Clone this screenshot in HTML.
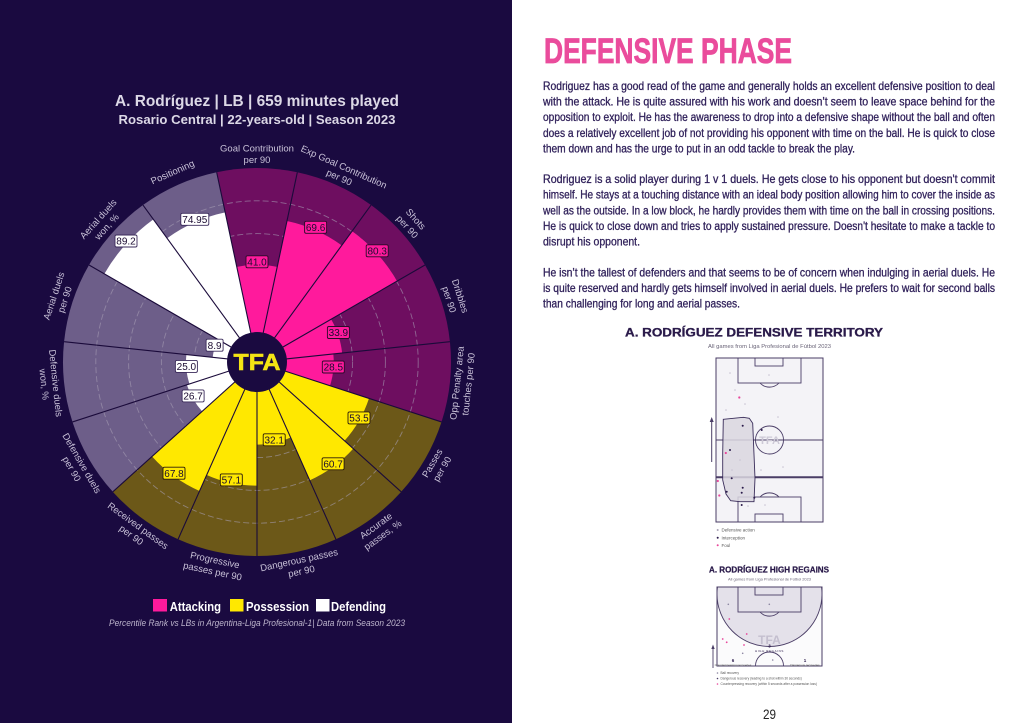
<!DOCTYPE html>
<html><head><meta charset="utf-8"><style>html,body{margin:0;padding:0;background:#fff;}svg{display:block}</style></head>
<body>
<svg width="1024" height="723" viewBox="0 0 1024 723" xmlns="http://www.w3.org/2000/svg" xmlns:xlink="http://www.w3.org/1999/xlink" font-family="'Liberation Sans', sans-serif">
<defs>
<path id="bg" d="M0 0L-40.33 -189.76A194 194 0 0 1 40.33 -189.76Z"/>
<line id="sep" x1="0" y1="-28" x2="0" y2="-194" stroke="#1a0a3a" stroke-width="1.1"/>
<clipPath id="hrclip"><rect x="717" y="587" width="105" height="79"/></clipPath>
</defs>
<rect x="0" y="0" width="512" height="723" fill="#1a0a40"/>
<rect x="512" y="0" width="512" height="723" fill="#ffffff"/>

<!-- Title -->
<text x="257" y="106" text-anchor="middle" font-size="15.5" font-weight="bold" fill="#dcd8e6" textLength="284" lengthAdjust="spacingAndGlyphs">A. Rodríguez | LB | 659 minutes played</text>
<text x="257" y="124" text-anchor="middle" font-size="13" font-weight="bold" fill="#dcd8e6" textLength="277" lengthAdjust="spacingAndGlyphs">Rosario Central | 22-years-old | Season 2023</text>

<g transform="translate(257,362)">
<use xlink:href="#bg" fill="#6e0e60"/>
<use xlink:href="#bg" fill="#6e0e60" transform="rotate(24)"/>
<use xlink:href="#bg" fill="#6e0e60" transform="rotate(48)"/>
<use xlink:href="#bg" fill="#6e0e60" transform="rotate(72)"/>
<use xlink:href="#bg" fill="#6e0e60" transform="rotate(96)"/>
<use xlink:href="#bg" fill="#6c5818" transform="rotate(120)"/>
<use xlink:href="#bg" fill="#6c5818" transform="rotate(144)"/>
<use xlink:href="#bg" fill="#6c5818" transform="rotate(168)"/>
<use xlink:href="#bg" fill="#6c5818" transform="rotate(192)"/>
<use xlink:href="#bg" fill="#6c5818" transform="rotate(216)"/>
<use xlink:href="#bg" fill="#6d5e89" transform="rotate(240)"/>
<use xlink:href="#bg" fill="#6d5e89" transform="rotate(264)"/>
<use xlink:href="#bg" fill="#6d5e89" transform="rotate(288)"/>
<use xlink:href="#bg" fill="#6d5e89" transform="rotate(312)"/>
<use xlink:href="#bg" fill="#6d5e89" transform="rotate(336)"/>
<g fill="none" stroke="#a89fb5" stroke-width="0.9" stroke-dasharray="6 3" opacity="0.6">
<circle r="62.8"/><circle r="95.6"/><circle r="128.4"/><circle r="161.2"/>
</g>
<path fill="#ff1a9c" d="M0 0L-20.22 -95.12A97.24 97.24 0 0 1 20.22 -95.12Z"/>
<path fill="#ff1a9c" transform="rotate(24)" d="M0 0L-29.97 -140.99A144.14 144.14 0 0 1 29.97 -140.99Z"/>
<path fill="#ff1a9c" transform="rotate(48)" d="M0 0L-33.62 -158.16A161.69 161.69 0 0 1 33.62 -158.16Z"/>
<path fill="#ff1a9c" transform="rotate(72)" d="M0 0L-17.80 -83.73A85.6 85.6 0 0 1 17.80 -83.73Z"/>
<path fill="#ff1a9c" transform="rotate(96)" d="M0 0L-15.96 -75.06A76.74 76.74 0 0 1 15.96 -75.06Z"/>
<path fill="#ffe800" transform="rotate(120)" d="M0 0L-24.48 -115.17A117.74 117.74 0 0 1 24.48 -115.17Z"/>
<path fill="#ffe800" transform="rotate(144)" d="M0 0L-26.94 -126.72A129.55 129.55 0 0 1 26.94 -126.72Z"/>
<path fill="#ffe800" transform="rotate(168)" d="M0 0L-17.18 -80.83A82.64 82.64 0 0 1 17.18 -80.83Z"/>
<path fill="#ffe800" transform="rotate(192)" d="M0 0L-25.71 -120.94A123.64 123.64 0 0 1 25.71 -120.94Z"/>
<path fill="#ffe800" transform="rotate(216)" d="M0 0L-29.35 -138.10A141.19 141.19 0 0 1 29.35 -138.10Z"/>
<path fill="#ffffff" transform="rotate(240)" d="M0 0L-15.34 -72.18A73.79 73.79 0 0 1 15.34 -72.18Z"/>
<path fill="#ffffff" transform="rotate(264)" d="M0 0L-14.76 -69.45A71 71 0 0 1 14.76 -69.45Z"/>
<path fill="#ffffff" transform="rotate(288)" d="M0 0L-9.27 -43.63A44.6 44.6 0 0 1 9.27 -43.63Z"/>
<path fill="#ffffff" transform="rotate(312)" d="M0 0L-36.65 -172.44A176.29 176.29 0 0 1 36.65 -172.44Z"/>
<path fill="#ffffff" transform="rotate(336)" d="M0 0L-31.79 -149.58A152.92 152.92 0 0 1 31.79 -149.58Z"/>
<use xlink:href="#sep" transform="rotate(-12)"/>
<use xlink:href="#sep" transform="rotate(12)"/>
<use xlink:href="#sep" transform="rotate(36)"/>
<use xlink:href="#sep" transform="rotate(60)"/>
<use xlink:href="#sep" transform="rotate(84)"/>
<use xlink:href="#sep" transform="rotate(108)"/>
<use xlink:href="#sep" transform="rotate(132)"/>
<use xlink:href="#sep" transform="rotate(156)"/>
<use xlink:href="#sep" transform="rotate(180)"/>
<use xlink:href="#sep" transform="rotate(204)"/>
<use xlink:href="#sep" transform="rotate(228)"/>
<use xlink:href="#sep" transform="rotate(252)"/>
<use xlink:href="#sep" transform="rotate(276)"/>
<use xlink:href="#sep" transform="rotate(300)"/>
<use xlink:href="#sep" transform="rotate(324)"/>
<circle r="30" fill="#1a0a40"/>
<text x="0" y="8" text-anchor="middle" font-size="23" font-weight="bold" fill="#f4e414" stroke="#f4e414" stroke-width="0.6" textLength="47" lengthAdjust="spacingAndGlyphs">TFA</text>
</g>

<g font-size="10" text-anchor="middle" fill="#1a0a30" stroke-width="0.9">
<rect x="246" y="255.8" width="22" height="12" rx="1.5" fill="#ff1a9c" stroke="#2a0a2a"/><text x="257" y="265.5">41.0</text>
<rect x="304.6" y="221.3" width="22" height="12" rx="1.5" fill="#ff1a9c" stroke="#2a0a2a"/><text x="315.6" y="231">69.6</text>
<rect x="366.2" y="244.8" width="22" height="12" rx="1.5" fill="#ff1a9c" stroke="#2a0a2a"/><text x="377.2" y="254.5">80.3</text>
<rect x="327.4" y="326.5" width="22" height="12" rx="1.5" fill="#ff1a9c" stroke="#2a0a2a"/><text x="338.4" y="336.2">33.9</text>
<rect x="322.3" y="361" width="22" height="12" rx="1.5" fill="#ff1a9c" stroke="#2a0a2a"/><text x="333.3" y="370.7">28.5</text>
<rect x="348" y="411.9" width="22" height="12" rx="1.5" fill="#ffe800" stroke="#2a1a0a"/><text x="359" y="421.6">53.5</text>
<rect x="322.1" y="457.8" width="22" height="12" rx="1.5" fill="#ffe800" stroke="#2a1a0a"/><text x="333.1" y="467.5">60.7</text>
<rect x="263.2" y="433.8" width="22" height="12" rx="1.5" fill="#ffe800" stroke="#2a1a0a"/><text x="274.2" y="443.5">32.1</text>
<rect x="220.3" y="473.9" width="22" height="12" rx="1.5" fill="#ffe800" stroke="#2a1a0a"/><text x="231.3" y="483.6">57.1</text>
<rect x="163" y="467.2" width="22" height="12" rx="1.5" fill="#ffe800" stroke="#2a1a0a"/><text x="174" y="476.9">67.8</text>
<rect x="182.1" y="389.9" width="22" height="12" rx="1.5" fill="#ffffff" stroke="#3a2a5a"/><text x="193.1" y="399.6">26.7</text>
<rect x="175.4" y="360.4" width="22" height="12" rx="1.5" fill="#ffffff" stroke="#3a2a5a"/><text x="186.4" y="370.1">25.0</text>
<rect x="206.1" y="339.2" width="17" height="12" rx="1.5" fill="#ffffff" stroke="#3a2a5a"/><text x="214.6" y="348.9">8.9</text>
<rect x="115" y="235" width="22" height="12" rx="1.5" fill="#ffffff" stroke="#3a2a5a"/><text x="126" y="244.7">89.2</text>
<rect x="180.8" y="213.3" width="28" height="12" rx="1.5" fill="#ffffff" stroke="#3a2a5a"/><text x="194.8" y="223">74.95</text>
</g>

<g font-size="9.5" text-anchor="middle" fill="#c9c2d8">
<g transform="translate(257,154)"><text y="-2.4">Goal Contribution</text><text y="9.1">per 90</text></g>
<g transform="translate(341.6,172) rotate(24)"><text y="-2.4">Exp Goal Contribution</text><text y="9.1">per 90</text></g>
<g transform="translate(411.6,222.8) rotate(48)"><text y="-2.4">Shots</text><text y="9.1">per 90</text></g>
<g transform="translate(454.8,297.7) rotate(72)"><text y="-2.4">Dribbles</text><text y="9.1">per 90</text></g>
<g transform="translate(462.5,383.6) rotate(-84)"><text y="-2.4">Opp Penalty area</text><text y="9.1">touches per 90</text></g>
<g transform="translate(437.1,466) rotate(-60)"><text y="-2.4">Passes</text><text y="9.1">per 90</text></g>
<g transform="translate(379.3,530.3) rotate(-36)"><text y="-2.4">Accurate</text><text y="9.1">passes, %</text></g>
<g transform="translate(300.2,565.5) rotate(-12)"><text y="-2.4">Dangerous passes</text><text y="9.1">per 90</text></g>
<g transform="translate(213.8,565.5) rotate(12)"><text y="-2.4">Progressive</text><text y="9.1">passes per 90</text></g>
<g transform="translate(134.7,530.3) rotate(36)"><text y="-2.4">Received passes</text><text y="9.1">per 90</text></g>
<g transform="translate(76.9,466) rotate(60)"><text y="-2.4">Defensive duels</text><text y="9.1">per 90</text></g>
<g transform="translate(50.1,383.7) rotate(84)"><text y="-2.4">Defensive duels</text><text y="9.1">won, %</text></g>
<g transform="translate(59.2,297.7) rotate(-72)"><text y="-2.4">Aerial duels</text><text y="9.1">per 90</text></g>
<g transform="translate(102.4,222.8) rotate(-48)"><text y="-2.4">Aerial duels</text><text y="9.1">won, %</text></g>
<g transform="translate(172.4,172) rotate(-24)"><text y="3.4">Positioning</text></g>
</g>

<rect x="153" y="599" width="14" height="12.5" fill="#ff1a9c"/>
<text x="169.7" y="611" font-size="13" font-weight="bold" fill="#ffffff" textLength="51.3" lengthAdjust="spacingAndGlyphs">Attacking</text>
<rect x="230" y="599" width="13.5" height="12.5" fill="#ffe800"/>
<text x="246" y="611" font-size="13" font-weight="bold" fill="#ffffff" textLength="63" lengthAdjust="spacingAndGlyphs">Possession</text>
<rect x="316" y="599" width="13.5" height="12.5" fill="#ffffff"/>
<text x="331" y="611" font-size="13" font-weight="bold" fill="#ffffff" textLength="55" lengthAdjust="spacingAndGlyphs">Defending</text>
<text x="109" y="626" font-size="9" font-style="italic" fill="#bdb5cc" textLength="296" lengthAdjust="spacingAndGlyphs">Percentile Rank vs LBs in Argentina-Liga Profesional-1| Data from Season 2023</text>

<!-- RIGHT PAGE -->
<text x="544" y="63" font-size="35" font-weight="bold" fill="#ea4c9c" stroke="#ea4c9c" stroke-width="0.8" textLength="248" lengthAdjust="spacingAndGlyphs">DEFENSIVE PHASE</text>
<g font-size="12" fill="#30215a" stroke="#30215a" stroke-width="0.3">
<text x="543" y="90" textLength="452" lengthAdjust="spacingAndGlyphs">Rodriguez has a good read of the game and generally holds an excellent defensive position to deal</text>
<text x="543" y="105.6" textLength="452" lengthAdjust="spacingAndGlyphs">with the attack. He is quite assured with his work and doesn’t seem to leave space behind for the</text>
<text x="543" y="121.2" textLength="452" lengthAdjust="spacingAndGlyphs">opposition to exploit. He has the awareness to drop into a defensive shape without the ball and often</text>
<text x="543" y="136.8" textLength="452" lengthAdjust="spacingAndGlyphs">does a relatively excellent job of not providing his opponent with time on the ball. He is quick to close</text>
<text x="543" y="152.4" textLength="312" lengthAdjust="spacingAndGlyphs">them down and has the urge to put in an odd tackle to break the play.</text>
<text x="543" y="183" textLength="452" lengthAdjust="spacingAndGlyphs">Rodriguez is a solid player during 1 v 1 duels. He gets close to his opponent but doesn't commit</text>
<text x="543" y="198.7" textLength="452" lengthAdjust="spacingAndGlyphs">himself. He stays at a touching distance with an ideal body position allowing him to cover the inside as</text>
<text x="543" y="214.3" textLength="452" lengthAdjust="spacingAndGlyphs">well as the outside. In a low block, he hardly provides them with time on the ball in crossing positions.</text>
<text x="543" y="230" textLength="452" lengthAdjust="spacingAndGlyphs">He is quick to close down and tries to apply sustained pressure. Doesn't hesitate to make a tackle to</text>
<text x="543" y="245.3" textLength="97" lengthAdjust="spacingAndGlyphs">disrupt his opponent.</text>
<text x="543" y="276.3" textLength="452" lengthAdjust="spacingAndGlyphs">He isn’t the tallest of defenders and that seems to be of concern when indulging in aerial duels. He</text>
<text x="543" y="292" textLength="452" lengthAdjust="spacingAndGlyphs">is quite reserved and hardly gets himself involved in aerial duels. He prefers to wait for second balls</text>
<text x="543" y="307.3" textLength="197" lengthAdjust="spacingAndGlyphs">than challenging for long and aerial passes.</text>
</g>

<!-- Defensive territory -->
<text x="625" y="336.5" font-size="11.5" font-weight="bold" fill="#2a1a4a" stroke="#2a1a4a" stroke-width="0.3" textLength="258" lengthAdjust="spacingAndGlyphs">A. RODRÍGUEZ DEFENSIVE TERRITORY</text>
<text x="769.5" y="348" font-size="5" text-anchor="middle" fill="#6a6478" textLength="123" lengthAdjust="spacingAndGlyphs">All games from Liga Profesional de Fútbol 2023</text>
<rect x="716" y="358" width="107" height="164" fill="#f4f3f7" stroke="#4a3d66" stroke-width="1"/>
<g fill="none" stroke="#4a3d66" stroke-width="0.9">
<rect x="738" y="358" width="63" height="25"/>
<rect x="755" y="358" width="28" height="8"/>
<path d="M760 383A13 13 0 0 0 779 383"/>
<line x1="716" y1="440" x2="823" y2="440"/>
<circle cx="769.5" cy="440" r="14"/>
<rect x="738" y="497" width="63" height="25"/>
<rect x="755" y="514" width="28" height="8"/>
<path d="M760 497A13 13 0 0 1 779 497"/>
</g>
<line x1="716" y1="477.3" x2="823" y2="477.3" stroke="#4a3d66" stroke-width="2"/>
<text x="769.5" y="444" font-size="11" font-weight="bold" text-anchor="middle" fill="#cdc9d6">TFA</text>
<path d="M723.3 419.3L743.3 417.3L749.3 418.3L752.7 423.3L755 478.3L754 501.7L740 501.7L730.7 500.7L726 494L722.7 480L722.7 453.3Z" fill="#d9d6df" fill-opacity="0.85" stroke="#3a2d5a" stroke-width="0.9"/>
<g fill="#c8c3d2">
<circle cx="730" cy="373" r="0.8"/><circle cx="769" cy="375" r="0.8"/><circle cx="735" cy="390" r="0.8"/><circle cx="745" cy="404" r="0.8"/><circle cx="726" cy="410" r="0.8"/><circle cx="778" cy="417" r="0.8"/><circle cx="783" cy="467" r="0.8"/><circle cx="761" cy="470" r="0.8"/><circle cx="748" cy="506" r="0.8"/><circle cx="765" cy="505" r="0.8"/><circle cx="740" cy="460" r="0.8"/><circle cx="732" cy="470" r="0.8"/>
</g>
<g fill="#2a1a4a">
<circle cx="742.7" cy="425.7" r="1"/><circle cx="761.7" cy="430" r="1"/><circle cx="730" cy="450" r="1"/><circle cx="731.7" cy="478.3" r="1"/><circle cx="726.7" cy="491.7" r="1"/><circle cx="742.7" cy="487.7" r="1"/><circle cx="741.7" cy="492.7" r="1"/><circle cx="754.3" cy="497.7" r="1"/><circle cx="741.7" cy="505" r="1"/>
</g>
<g fill="#e8479b">
<circle cx="739.3" cy="397.5" r="1.1"/><circle cx="725.8" cy="453" r="1.1"/><circle cx="717.8" cy="481" r="1.1"/><circle cx="719.3" cy="495.5" r="1.1"/>
</g>
<line x1="711.7" y1="462" x2="711.7" y2="420" stroke="#4a3d66" stroke-width="1"/>
<path d="M709.7 422L711.7 417L713.7 422Z" fill="#4a3d66"/>
<circle cx="717.7" cy="530" r="1" fill="#a9a3b6"/>
<circle cx="717.7" cy="537.7" r="1" fill="#2a1a4a"/>
<circle cx="717.7" cy="545.3" r="1" fill="#e8479b"/>
<g font-size="4.5" fill="#555">
<text x="721.5" y="531.6">Defensive action</text>
<text x="721.5" y="539.3">Interception</text>
<text x="721.5" y="546.9">Foul</text>
</g>

<!-- High regains -->
<text x="709" y="572.5" font-size="8.5" font-weight="bold" fill="#2a1a4a" stroke="#2a1a4a" stroke-width="0.25" textLength="120" lengthAdjust="spacingAndGlyphs">A. RODRÍGUEZ HIGH REGAINS</text>
<text x="769.5" y="580.5" font-size="4" text-anchor="middle" fill="#6a6478" textLength="83" lengthAdjust="spacingAndGlyphs">All games from Liga Profesional de Fútbol 2023</text>
<rect x="717" y="587" width="105" height="79" fill="#fbfbfc"/>
<circle cx="769.5" cy="594" r="52.5" fill="#e4e1ea" stroke="#4a3d66" stroke-width="0.9" clip-path="url(#hrclip)"/>
<rect x="717" y="587" width="105" height="79" fill="none" stroke="#4a3d66" stroke-width="1"/>
<g fill="none" stroke="#4a3d66" stroke-width="0.9">
<rect x="738" y="587" width="63" height="25"/>
<rect x="755" y="587" width="28" height="8"/>
<path d="M760 612A13 13 0 0 0 779 612"/>
<path d="M755.5 666A14 14 0 0 1 783.5 666"/>
</g>
<text x="769.5" y="644" font-size="12" font-weight="bold" text-anchor="middle" fill="#c4bfcf">TFA</text>
<text x="769.5" y="647.5" font-size="4.5" font-weight="bold" text-anchor="middle" fill="#2a1a4a">3</text>
<text x="769.5" y="652" font-size="3" text-anchor="middle" fill="#2a1a4a" letter-spacing="0.6">HIGH REGAINS</text>
<text x="733" y="662" font-size="4.5" font-weight="bold" text-anchor="middle" fill="#2a1a4a">6</text>
<text x="805" y="662" font-size="4.5" font-weight="bold" text-anchor="middle" fill="#2a1a4a">1</text>
<text x="733" y="666" font-size="3" text-anchor="middle" fill="#555">Counterpressing recoveries</text>
<text x="805" y="666" font-size="3" text-anchor="middle" fill="#555">Dangerous recoveries</text>
<g fill="#e8479b">
<circle cx="729.3" cy="619" r="0.9"/><circle cx="746.7" cy="634" r="0.9"/><circle cx="722.7" cy="639" r="0.9"/><circle cx="726.7" cy="642.3" r="0.9"/><circle cx="744" cy="645" r="0.9"/>
</g>
<g fill="#8a84a0">
<circle cx="728.3" cy="604.3" r="0.8"/><circle cx="769.3" cy="604.3" r="0.8"/><circle cx="742.7" cy="653.3" r="0.8"/><circle cx="772.7" cy="660" r="0.8"/>
</g>
<line x1="713" y1="668" x2="713" y2="647" stroke="#4a3d66" stroke-width="0.9"/>
<path d="M711.3 649L713 644.5L714.7 649Z" fill="#4a3d66"/>
<circle cx="717.5" cy="673" r="0.8" fill="#8a84a0"/>
<circle cx="717.5" cy="678.5" r="0.8" fill="#4a3d66"/>
<circle cx="717.5" cy="684" r="0.8" fill="#e8479b"/>
<g font-size="3.2" fill="#555">
<text x="720.5" y="674.2">Ball recovery</text>
<text x="720.5" y="679.7">Dangerous recovery (leading to a shot within 30 seconds)</text>
<text x="720.5" y="685.2">Counterpressing recovery (within 5 seconds after a possession loss)</text>
</g>

<text x="769.5" y="719" font-size="14" text-anchor="middle" fill="#222" textLength="13" lengthAdjust="spacingAndGlyphs">29</text>
</svg>
</body></html>
